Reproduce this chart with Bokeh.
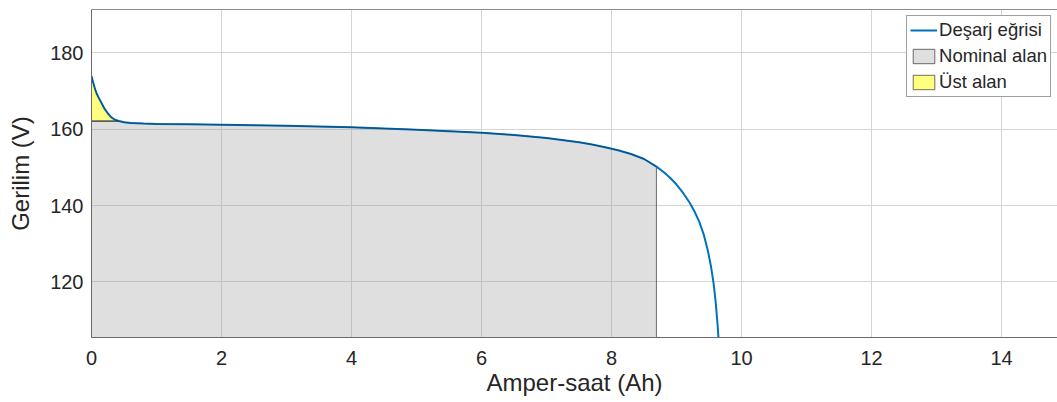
import numpy as np
from bokeh.plotting import figure
from bokeh.models import LinearAxis, FixedTicker, Legend, LegendItem
from bokeh.embed import file_html
from bokeh.resources import INLINE

# Discharge curve
ah = [0, 0.02, 0.05, 0.08, 0.11, 0.15, 0.2, 0.25, 0.3, 0.36, 0.42, 0.5, 0.6,
      0.8, 1.0, 1.5, 2, 2.5, 3, 3.5, 4, 4.5, 5, 5.5, 6, 6.5, 7, 7.5, 7.7, 7.9,
      8.1, 8.3, 8.5, 8.69, 8.8, 8.9, 9.0, 9.1, 9.2, 9.28, 9.35, 9.42, 9.48,
      9.53, 9.57, 9.6, 9.63, 9.65]
volt = [174.0, 172.6, 170.8, 169.3, 168.3, 167.0, 165.4, 164.2, 163.2, 162.5,
        162.15, 161.85, 161.65, 161.5, 161.4, 161.3, 161.2, 161.05, 160.9,
        160.7, 160.5, 160.2, 159.9, 159.5, 159.1, 158.5, 157.7, 156.6, 156.0,
        155.3, 154.5, 153.5, 152.2, 150.2, 148.8, 147.3, 145.5, 143.3, 140.8,
        138.3, 135.7, 132.3, 128.3, 124.0, 119.5, 115.0, 109.0, 104.0]
q_nominal = 8.69      # end of nominal area (Ah)
v_exp = 162.15        # top of nominal area / base of upper area (V)
x_ticks = [0, 2, 4, 6, 8, 10, 12, 14]
y_ticks = [120, 140, 160, 180]
x_lim = (0, 14.86)
y_lim = (105.4, 191.4)

FONT = "Liberation Sans"
TXT = "#262626"

ah_a = np.array(ah)
v_a = np.array(volt)

# Nominal area polygon: under min(curve, v_exp), from 0 to q_nominal
m = ah_a <= q_nominal
gx = list(ah_a[m])
gy = list(np.minimum(v_a[m], v_exp))
if gx[-1] < q_nominal:
    gx.append(q_nominal)
    gy.append(min(float(np.interp(q_nominal, ah_a, v_a)), v_exp))
bottom = y_lim[0] - 5
gray_x = gx + [q_nominal, 0]
gray_y = gy + [bottom, bottom]

# Upper area polygon: between curve and v_exp
mu = (v_a >= v_exp) & (ah_a < 2)
yx = list(ah_a[mu])
yy = list(v_a[mu])
yel_x = yx + [0]
yel_y = yy + [v_exp]

p = figure(width=1057, height=402, frame_width=966, frame_height=328,
           x_range=x_lim, y_range=y_lim, output_backend="svg",
           toolbar_location=None, min_border_left=91, min_border_right=0,
           min_border_top=9, min_border_bottom=65)
p.outline_line_color = None
p.background_fill_color = "white"
p.border_fill_color = "white"

gray_r = p.patch(gray_x, gray_y, fill_color="#9c9c9c", fill_alpha=0.32,
                 line_color="#333333", line_alpha=0.7, line_width=1)
yel_r = p.patch(yel_x, yel_y, fill_color="#ffff00", fill_alpha=0.5,
                line_color="#333333", line_alpha=0.7, line_width=1)
line_r = p.line(ah, volt, line_color="#0072BD", line_width=2)
# darken the line where the patch edges coincide with it
p.line(gx, gy, line_color="#1a2a3a", line_alpha=0.5, line_width=1)
p.line(yx, yy, line_color="#1a2a3a", line_alpha=0.5, line_width=1)

for ax in (p.xaxis[0], p.yaxis[0]):
    ax.axis_line_color = "#6a6a6a"
    ax.axis_line_width = 1
    ax.major_tick_out = 0
    ax.major_tick_in = 0
    ax.minor_tick_out = 0
    ax.minor_tick_in = 0
    ax.major_label_text_font = FONT
    ax.major_label_text_font_size = "20px"
    ax.major_label_text_color = TXT
    ax.axis_label_text_font = FONT
    ax.axis_label_text_font_size = "24px"
    ax.axis_label_text_font_style = "normal"
    ax.axis_label_text_color = TXT

p.xaxis.ticker = FixedTicker(ticks=x_ticks)
p.yaxis.ticker = FixedTicker(ticks=y_ticks)
p.xaxis.axis_label = "Amper-saat (Ah)"
p.yaxis.axis_label = "Gerilim (V)"
p.xaxis.major_label_standoff = 13
p.xaxis.axis_label_standoff = 1
p.yaxis.major_label_standoff = 8
p.yaxis.axis_label_standoff = 13

top = LinearAxis(ticker=FixedTicker(ticks=[]), major_label_text_font_size="0px",
                 major_label_standoff=0, axis_line_color="#8c8c8c",
                 major_tick_out=0, major_tick_in=0, minor_tick_out=0, minor_tick_in=0)
p.add_layout(top, "above")

p.xgrid.grid_line_color = "#d4d4d4"
p.ygrid.grid_line_color = "#d4d4d4"
p.xgrid.ticker = FixedTicker(ticks=x_ticks)
p.ygrid.ticker = FixedTicker(ticks=y_ticks)

legend = Legend(items=[LegendItem(label="Deşarj eğrisi", renderers=[line_r]),
                       LegendItem(label="Nominal alan", renderers=[gray_r]),
                       LegendItem(label="Üst alan", renderers=[yel_r])],
                location="top_right")
legend.label_text_font = FONT
legend.label_text_font_size = "18.5px"
legend.label_text_color = TXT
legend.border_line_color = "#404040"
legend.border_line_width = 1
legend.background_fill_alpha = 1
legend.padding = 3
legend.spacing = 4
legend.margin = 6
legend.glyph_width = 27
legend.glyph_height = 18
legend.label_height = 19
legend.label_standoff = 2
p.add_layout(legend)

open("out.html", "w").write(file_html(p, INLINE))
